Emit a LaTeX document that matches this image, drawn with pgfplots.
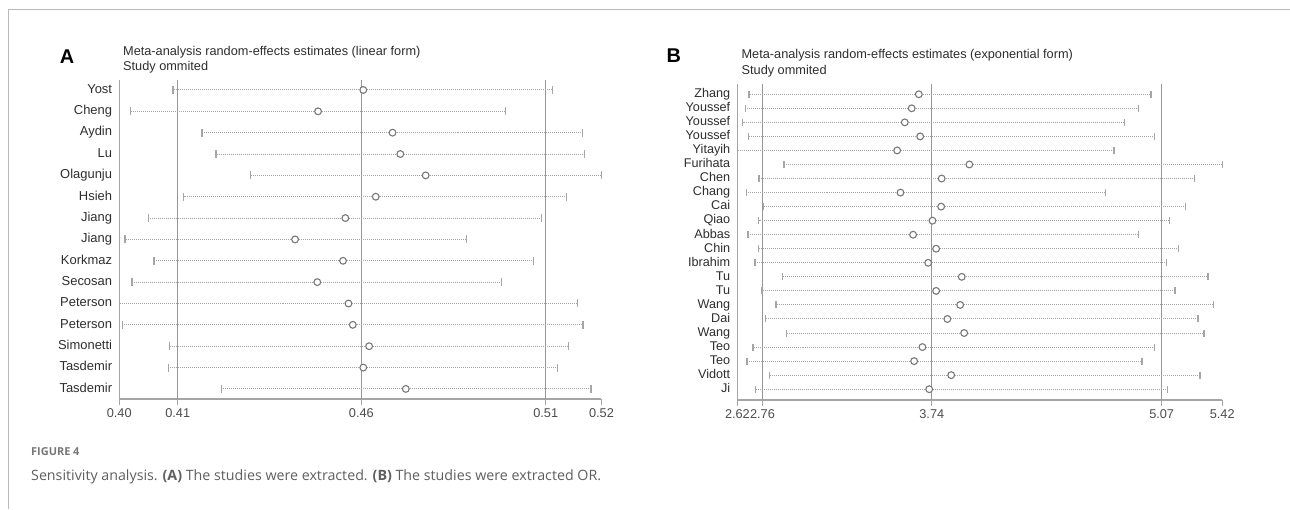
\documentclass[border=0pt]{standalone}
\usepackage{fontspec}
\setmainfont{Liberation Sans}
\newfontfamily\capfont{Open Sans}
\usepackage{pgfplots}
\usepackage{pgfplotstable}
\pgfplotsset{compat=1.18}

\definecolor{axisgray}{RGB}{165,165,165}
\definecolor{refgray}{RGB}{150,150,150}
\definecolor{dotgray}{RGB}{165,165,165}
\definecolor{circgray}{RGB}{120,120,120}
\definecolor{labgray}{RGB}{45,45,45}
\definecolor{capgray}{RGB}{95,95,95}
\definecolor{framegray}{RGB}{185,185,185}

% panel A: study omitted, estimate with lower / upper limit
\pgfplotstableread{
y name est lo hi
1 Yost 0.4601 0.4113 0.5086
2 Cheng 0.4485 0.4004 0.4966
3 Aydin 0.4676 0.4187 0.5164
4 Lu 0.4696 0.4223 0.5169
5 Olagunju 0.4761 0.4311 0.5212
6 Hsieh 0.4633 0.4140 0.5123
7 Jiang 0.4555 0.4050 0.5058
8 Jiang 0.4426 0.3990 0.4866
9 Korkmaz 0.4549 0.4064 0.5037
10 Secosan 0.4483 0.4008 0.4956
11 Peterson 0.4563 0.3975 0.5150
12 Peterson 0.4574 0.3983 0.5165
13 Simonetti 0.4616 0.4104 0.5127
14 Tasdemir 0.4601 0.4101 0.5099
15 Tasdemir 0.4710 0.4237 0.5185
}\dataA

% panel B
\pgfplotstableread{
y name est lo hi
1 Zhang 3.669 2.687 5.010
2 Youssef 3.628 2.666 4.937
3 Youssef 3.588 2.651 4.856
4 Youssef 3.677 2.685 5.029
5 Yitayih 3.544 2.621 4.797
6 Furihata 3.961 2.889 5.422
7 Chen 3.801 2.745 5.262
8 Chang 3.563 2.674 4.747
9 Cai 3.798 2.772 5.208
10 Qiao 3.748 2.743 5.116
11 Abbas 3.636 2.681 4.937
12 Chin 3.769 2.743 5.170
13 Ibrahim 3.723 2.722 5.099
14 Tu 3.917 2.880 5.339
15 Tu 3.769 2.762 5.149
16 Wang 3.908 2.845 5.372
17 Dai 3.834 2.782 5.283
18 Wang 3.931 2.905 5.316
19 Teo 3.690 2.710 5.029
20 Teo 3.642 2.676 4.958
21 Vidott 3.856 2.808 5.293
22 Ji 3.729 2.726 5.106
}\dataB

\pgfplotsset{
  influence/.style={
    scale only axis, clip=false, y dir=reverse,
    axis x line*=bottom, axis y line*=left,
    axis line style={axisgray, line width=1.4bp, -},
    tick align=outside, major tick length=6bp,
    x tick style={axisgray, line width=1.2bp},
    y tick style={draw=none},
    /pgf/number format/assume math mode=true,
    xticklabel style={font=\fontsize{12.8}{14}\selectfont, text=labgray!85},
    yticklabel style={text=labgray, inner sep=0pt, xshift=-1bp,
      text height=9.2bp, text depth=2.6bp},
  },
  ciplot/.style={
    only marks, mark=*, mark size=3.4bp,
    mark options={draw=circgray, fill=white, line width=1.1bp},
    error bars/.cd, x dir=both, x explicit, error mark=|,
      error bar style={dotgray, line width=1bp, dash pattern=on 1bp off 1bp},
      error mark options={solid, dotgray, line width=1.4bp, mark size=#1},
  },
}

\begin{document}
\begin{tikzpicture}
\path (0,0) rectangle (1290bp,-509bp);
\draw[framegray, line width=1bp] (9bp,-509bp) -- (9bp,-10bp) -- (1290bp,-10bp);

% ---------- panel A ----------
\node[anchor=center, font=\fontsize{20}{20}\selectfont\bfseries] at (67bp,-57bp) {A};
\node[anchor=west, inner sep=0pt, text=labgray, font=\fontsize{12.8}{14}\selectfont] at (123bp,-52bp) {Meta-analysis random-effects estimates (linear form)};
\node[anchor=west, inner sep=0pt, text=labgray, font=\fontsize{12.8}{14}\selectfont] at (123bp,-67bp) {Study ommited};

\begin{axis}[influence,
  at={(119.3bp,-399.3bp)}, anchor=south west,
  width=482.4bp, height=319.3bp,
  xmin=0.3975, xmax=0.5212, ymin=0.532, ymax=15.48,
  xtick={0.3975,0.4125,0.4596,0.5069,0.5212},
  xticklabels={0.40,0.41,0.46,0.51,0.52},
  ytick={1,...,15},
  yticklabels from table={\dataA}{name},
  yticklabel style={font=\fontsize{13}{14}\selectfont},
]
\addplot[refgray, line width=1.3bp] coordinates {(0.4125,0.532) (0.4125,15.48)};
\addplot[refgray, line width=1.3bp] coordinates {(0.4596,0.532) (0.4596,15.48)};
\addplot[refgray, line width=1.3bp] coordinates {(0.5069,0.532) (0.5069,15.48)};
\addplot[ciplot=4bp] table[x=est, y=y,
  x error plus expr=\thisrow{hi}-\thisrow{est},
  x error minus expr=\thisrow{est}-\thisrow{lo}] {\dataA};
\end{axis}

% ---------- panel B ----------
\node[anchor=center, font=\fontsize{20}{20}\selectfont\bfseries] at (674bp,-56bp) {B};
\node[anchor=west, inner sep=0pt, text=labgray, font=\fontsize{12.8}{14}\selectfont] at (741.7bp,-55bp) {Meta-analysis random-effects estimates (exponential form)};
\node[anchor=west, inner sep=0pt, text=labgray, font=\fontsize{12.8}{14}\selectfont] at (741.7bp,-71bp) {Study ommited};

\begin{axis}[influence,
  at={(737.7bp,-400.3bp)}, anchor=south west,
  width=485bp, height=316.3bp,
  xmin=2.621, xmax=5.422, ymin=0.267, ymax=22.78,
  xtick={2.621,2.766,3.744,5.072,5.422},
  xticklabels={2.62,2.76,3.74,5.07,5.42},
  ytick={1,...,22},
  yticklabels from table={\dataB}{name},
  yticklabel style={font=\fontsize{12.7}{13}\selectfont},
]
\addplot[refgray, line width=1.3bp] coordinates {(2.766,0.267) (2.766,22.78)};
\addplot[refgray, line width=1.3bp] coordinates {(3.744,0.267) (3.744,22.78)};
\addplot[refgray, line width=1.3bp] coordinates {(5.072,0.267) (5.072,22.78)};
\addplot[ciplot=3.5bp] table[x=est, y=y,
  x error plus expr=\thisrow{hi}-\thisrow{est},
  x error minus expr=\thisrow{est}-\thisrow{lo}] {\dataB};
\end{axis}

% ---------- caption ----------
\node[anchor=west, inner sep=0pt, text=capgray!85, font=\capfont\fontsize{11}{12}\selectfont\bfseries] at (31bp,-452bp) {FIGURE 4};
\node[anchor=west, inner sep=0pt, text=capgray, font=\capfont\fontsize{14.3}{15}\selectfont] at (31bp,-477bp) {Sensitivity analysis. \textbf{(A)} The studies were extracted. \textbf{(B)} The studies were extracted OR.};
\end{tikzpicture}
\end{document}
